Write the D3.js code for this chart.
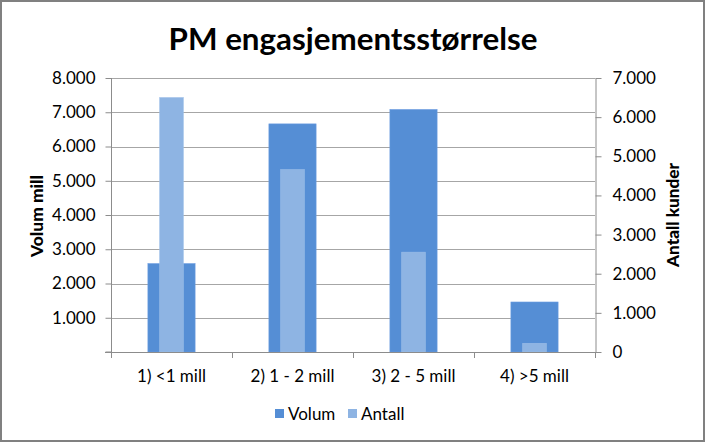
<!DOCTYPE html>
<html><head><meta charset="utf-8">
<script src="https://cdn.jsdelivr.net/npm/d3@7"></script>
<style>body{margin:0;background:#fff} svg{display:block}</style>
</head><body>
<svg id="c" width="706" height="443"></svg>
<script>
const title = "PM engasjementsstørrelse";
const categories = ["1) <1 mill", "2) 1 - 2 mill", "3) 2 - 5 mill", "4) >5 mill"];
const volum = [2580, 6660, 7080, 1460];
const antall = [6500, 4660, 2550, 220];
const leftTicks = [1000, 2000, 3000, 4000, 5000, 6000, 7000, 8000];
const rightTicks = [0, 1000, 2000, 3000, 4000, 5000, 6000, 7000];
const seriesNames = ["Volum", "Antall"];
const colors = ["#558ED5", "#8EB4E3"];
const leftTitle = "Volum mill";
const rightTitle = "Antall kunder";

const FONT = "Lato, 'Open Sans', sans-serif";
const svg = d3.select("#c");
const W = 706, H = 443;
const m = {left: 111, right: 595, top: 78, bottom: 352};

const loc = d3.formatLocale({decimal: ",", thousands: ".", grouping: [3], currency: ["", ""]});
const fmt = loc.format(",");

svg.append("rect").attr("x", 0).attr("y", 0).attr("width", W).attr("height", H).attr("fill", "#fff");

const x = d3.scaleBand().domain(categories).range([m.left, m.right]).padding(0);
const yL = d3.scaleLinear().domain([0, 8000]).range([m.bottom, m.top]);
const yR = d3.scaleLinear().domain([0, 7000]).range([m.bottom, m.top]);

// fit text to a target width
function fit(sel, target) {
  const fs = +sel.attr("font-size");
  const w = sel.node().getComputedTextLength();
  sel.attr("font-size", fs * target / w);
}

// gridlines
svg.append("g").selectAll("line").data(leftTicks).join("line")
  .attr("x1", m.left).attr("x2", m.right)
  .attr("y1", d => Math.round(yL(d)) + 0.5).attr("y2", d => Math.round(yL(d)) + 0.5)
  .attr("stroke", "#a6a6a6").attr("stroke-width", 1);

// bars
const bw = x.bandwidth();
svg.append("g").selectAll("rect").data(categories).join("rect")
  .attr("x", d => x(d) + bw / 2 - bw * 0.195)
  .attr("width", bw * 0.39)
  .attr("y", (d, i) => yL(volum[i]))
  .attr("height", (d, i) => yL(0) - yL(volum[i]))
  .attr("fill", colors[0]).attr("stroke", "#6a9be0").attr("stroke-width", 0.6);
svg.append("g").selectAll("rect").data(categories).join("rect")
  .attr("x", d => x(d) + bw / 2 - bw * 0.0975)
  .attr("width", bw * 0.195)
  .attr("y", (d, i) => yR(antall[i]))
  .attr("height", (d, i) => yR(0) - yR(antall[i]))
  .attr("fill", colors[1]).attr("stroke", "#9dbfe8").attr("stroke-width", 0.6);

// axes
const TS = 17;
const axisStyle = g => {
  g.selectAll(".domain").attr("stroke", "#8c8c8c");
  g.selectAll(".tick line").attr("stroke", "#8c8c8c");
  g.selectAll("text").attr("font-family", FONT).attr("font-size", TS).attr("fill", "#000");
};
const left = svg.append("g").attr("transform", `translate(${m.left + 0.5},0)`)
  .call(d3.axisLeft(yL).tickValues(leftTicks).tickFormat(fmt).tickSize(6).tickSizeOuter(0).tickPadding(10))
  .call(axisStyle);
left.select(".domain").attr("d", `M0,${m.top}V${m.bottom}`);
left.append("line").attr("x1", -6).attr("x2", 0).attr("y1", yL(0)).attr("y2", yL(0)).attr("stroke", "#8c8c8c");

svg.append("g").attr("transform", `translate(${m.right + 0.5},0)`)
  .call(d3.axisRight(yR).tickValues(rightTicks).tickFormat(fmt).tickSize(6).tickSizeOuter(0).tickPadding(11))
  .call(axisStyle);

const bottom = svg.append("g").attr("transform", `translate(0,${m.bottom + 0.5})`)
  .call(d3.axisBottom(x).tickSize(0).tickPadding(17))
  .call(axisStyle);
bottom.select(".domain").attr("d", `M${m.left - 6},0H${m.right + 6}`);
svg.append("g").selectAll("line").data(d3.range(categories.length + 1)).join("line")
  .attr("x1", i => Math.round(m.left + i * bw) + 0.5).attr("x2", i => Math.round(m.left + i * bw) + 0.5)
  .attr("y1", m.bottom).attr("y2", m.bottom + 6).attr("stroke", "#8c8c8c");

// title
const t = svg.append("text").attr("x", W / 2).attr("y", 50).attr("text-anchor", "middle")
  .attr("font-family", FONT).attr("font-weight", "bold").attr("font-size", 28).attr("fill", "#000").text(title);
fit(t, 369);

// axis titles
const lt = svg.append("text").attr("transform", `translate(43,${(m.top + m.bottom) / 2 + 1}) rotate(-90)`)
  .attr("text-anchor", "middle").attr("font-family", FONT).attr("font-weight", 900).attr("font-size", 16)
  .text(leftTitle);
fit(lt, 82);
const rt = svg.append("text").attr("transform", `translate(679,${(m.top + m.bottom) / 2}) rotate(-90)`)
  .attr("text-anchor", "middle").attr("font-family", FONT).attr("font-weight", 900).attr("font-size", 16)
  .text(rightTitle);
fit(rt, 104);

// legend
const lg = svg.append("g");
const legendX = [275, 348];
seriesNames.forEach((s, i) => {
  lg.append("rect").attr("x", legendX[i]).attr("y", 409).attr("width", 9).attr("height", 9).attr("fill", colors[i]);
  lg.append("text").attr("x", legendX[i] + 13).attr("y", 420).attr("font-family", FONT).attr("font-size", TS).text(s);
});

// border
svg.append("rect").attr("x", 1).attr("y", 1).attr("width", W - 3).attr("height", H - 3)
  .attr("fill", "none").attr("stroke", "#808080").attr("stroke-width", 2);
</script>
</body></html>
